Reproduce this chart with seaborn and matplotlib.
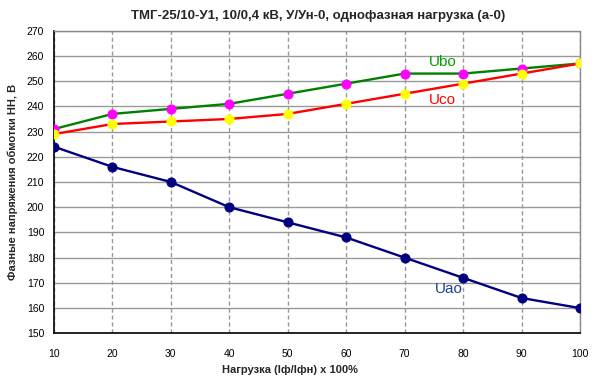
import matplotlib
matplotlib.use("Agg")
import matplotlib.pyplot as plt
import numpy as np
import pandas as pd
import seaborn as sns

# load, % of nominal phase current
load = [10, 20, 30, 40, 50, 60, 70, 80, 90, 100]
u_ao = [224, 216, 210, 200, 194, 188, 180, 172, 164, 160]
u_bo = [231, 237, 239, 241, 245, 249, 253, 253, 255, 257]
u_co = [229, 233, 234, 235, 237, 241, 245, 249, 253, 257]

y_ticks = list(range(150, 271, 10))

sns.set_theme(style="white")
plt.rcParams["font.family"] = ["Liberation Sans", "DejaVu Sans"]

df = pd.DataFrame({"load": load, "Uao": u_ao, "Ubo": u_bo, "Uco": u_co})

fig = plt.figure(figsize=(5.94, 3.82), dpi=100)
ax = fig.add_axes([54 / 594, 1 - 333.3 / 382, 526 / 594, 302.6 / 382])

# series: (column, line colour, marker colour)
styles = [
    ("Uao", "#000080", "#000080"),
    ("Ubo", "#008000", "#FF00FF"),
    ("Uco", "#FF0000", "#FFFF00"),
]
for col, lc, mc in styles:
    sns.lineplot(data=df, x="load", y=col, ax=ax, color=lc, linewidth=1.7,
                 marker="o", markersize=6.5, markerfacecolor=mc,
                 markeredgecolor=mc, zorder=3)

ax.set_xlim(10, 100)
ax.set_ylim(150, 270)
ax.set_xticks(load)
ax.set_yticks(y_ticks)
ax.tick_params(axis="both", labelsize=7.5, colors="black")
ax.tick_params(axis="x", direction="inout", length=6, pad=8)
ax.tick_params(axis="y", direction="out", length=4, pad=3)

ax.grid(axis="y", color="#999999", linewidth=1, linestyle="-")
ax.grid(axis="x", color="#999999", linewidth=1, linestyle=(0, (3, 2)))
ax.set_axisbelow(True)

for side in ["left", "bottom"]:
    ax.spines[side].set_color("black")
    ax.spines[side].set_linewidth(1.2)
for side in ["top", "right"]:
    ax.spines[side].set_color("#888888")
    ax.spines[side].set_linewidth(1)
    ax.spines[side].set_linestyle((0, (1, 1)))

ax.set_xlabel("Нагрузка (Iф/Iфн) х 100%", fontsize=8, fontweight="bold")
ax.xaxis.set_label_coords((290 - 54) / 526, -(365 - 333.3) / 302.6)
ax.set_ylabel("Фазные напряжения обмотки НН, В", fontsize=8, fontweight="bold", labelpad=6)

ax.text(76.5, 257.5, "Ubo", color="#00A000", fontsize=11, ha="center", va="center")
ax.text(76.5, 242.5, "Uco", color="#FF0000", fontsize=11, ha="center", va="center")
ax.text(77.5, 167.5, "Uao", color="#1F3F8F", fontsize=11, ha="center", va="center")

fig.text(318 / 594, 1 - 16 / 382, "ТМГ-25/10-У1, 10/0,4 кВ, У/Ун-0, однофазная нагрузка (а-0)",
         fontsize=9.5, fontweight="bold", ha="center", va="center")

fig.savefig("out.png", dpi=100)
